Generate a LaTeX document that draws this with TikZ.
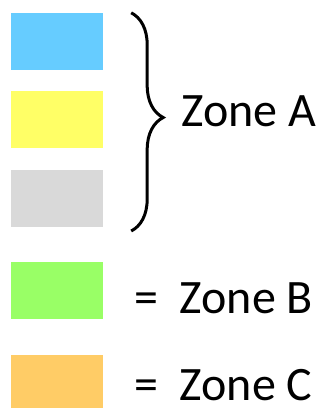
\documentclass[tikz,border=0pt]{standalone}
\usepackage{fontspec}
\setmainfont{Carlito}
\usepackage{xcolor}
\usepackage{tikz}
\usetikzlibrary{
positioning,
decorations.pathreplacing
}
\definecolor{ZoneSky}{HTML}{66CCFF}
\definecolor{ZoneYellow}{HTML}{FFFF66}
\definecolor{ZoneGray}{HTML}{D9D9D9}
\definecolor{ZoneGreen}{HTML}{99FF66}
\definecolor{ZoneOrange}{HTML}{FFCC66}

\begin{document}
\begin{tikzpicture}[x=1pt, y=1pt,
  zonebox/.style={rectangle, draw=none, inner sep=0pt, minimum width=92pt, minimum height=57pt},
  zonelabel/.style={anchor=base west, inner sep=0pt, font=\fontsize{48}{56}\selectfont}]
\useasboundingbox (0,0) rectangle (326,408);
\node[zonebox, fill=ZoneSky] (sky) at (57,366.5) {};
\node[zonebox, fill=ZoneYellow, below=21pt of sky] (yellow) {};
\node[zonebox, fill=ZoneGray, below=21pt of yellow] (gray) {};
\node[zonebox, fill=ZoneGreen, below=35pt of gray] (green) {};
\node[zonebox, fill=ZoneOrange, below=35pt of green] (orange) {};
% brace over the first three boxes
\coordinate (bracetop) at ([xshift=28pt]sky.north east);
\coordinate (bracebot) at ([xshift=28pt, yshift=-4pt]gray.south east);
\draw[line width=3pt, decorate, decoration={brace, amplitude=32pt, aspect=0.48}] (bracetop) -- (bracebot);
\node[zonelabel] (zonea) at (181.5,281) {Zone A};
\node[zonelabel] (zoneb) at (134,95) {=\ \ Zone B};
\node[zonelabel] (zonec) at (134,7) {=\ \ Zone C};
\end{tikzpicture}
\end{document}
